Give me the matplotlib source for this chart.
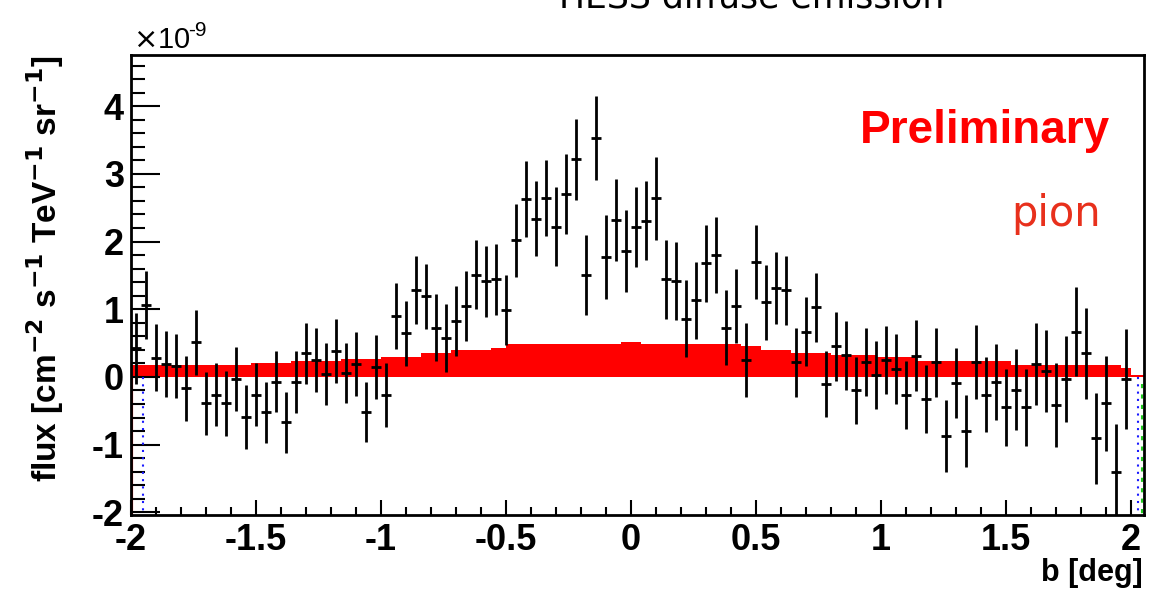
import matplotlib.pyplot as plt
import numpy as np

# measured flux points (units of 1e-9), bins of 0.04 deg
b_start = -1.98
b_step = 0.04
flux = [0.42, 1.06, 0.285, 0.19, 0.16, -0.17, 0.51, -0.39, -0.26, -0.39,
        -0.03, -0.59, -0.26, -0.52, -0.07, -0.67, -0.07, 0.35, 0.25, 0.04,
        0.38, 0.06, 0.19, -0.52, 0.15, -0.27, 0.90, 0.645, 1.285, 1.19,
        0.73, 0.57, 0.83, 1.05, 1.51, 1.41, 1.44, 0.99, 2.02, 2.63,
        2.34, 2.64, 2.22, 2.70, 3.215, 1.51, 3.535, 1.77, 2.32, 1.86,
        2.22, 2.31, 2.64, 1.44, 1.42, 0.86, 1.13, 1.68, 1.80, 0.73,
        1.05, 0.25, 1.70, 1.10, 1.31, 1.28, 0.22, 0.67, 1.03, -0.10,
        0.45, 0.32, -0.20, 0.22, 0.03, 0.25, 0.12, -0.27, 0.315, -0.33,
        0.22, -0.87, -0.09, -0.80, 0.22, -0.26, -0.07, -0.45, -0.19, -0.45,
        0.19, 0.09, -0.42, -0.03, 0.67, 0.35, -0.905, -0.39, -1.41, -0.03]
flux_err = [0.52, 0.50, 0.49, 0.49, 0.47, 0.48, 0.48, 0.47, 0.46, 0.48,
            0.47, 0.47, 0.47, 0.45, 0.45, 0.45, 0.46, 0.45, 0.47, 0.46,
            0.47, 0.44, 0.47, 0.44, 0.47, 0.47, 0.485, 0.48, 0.50, 0.48,
            0.49, 0.50, 0.52, 0.52, 0.51, 0.52, 0.52, 0.52, 0.54, 0.56,
            0.56, 0.56, 0.58, 0.59, 0.60, 0.59, 0.62, 0.62, 0.61, 0.61,
            0.59, 0.59, 0.61, 0.59, 0.58, 0.57, 0.57, 0.57, 0.56, 0.56,
            0.55, 0.55, 0.55, 0.55, 0.53, 0.51, 0.51, 0.51, 0.51, 0.49,
            0.51, 0.51, 0.50, 0.50, 0.50, 0.50, 0.52, 0.50, 0.52, 0.50,
            0.51, 0.53, 0.52, 0.53, 0.54, 0.55, 0.56, 0.57, 0.60, 0.57,
            0.61, 0.61, 0.62, 0.64, 0.66, 0.67, 0.67, 0.70, 0.71, 0.74]

# pion model histogram (step edges and heights)
pion_edges = [-2.0, -1.52, -1.36, -1.16, -1.0, -0.84, -0.72, -0.56, -0.50, -0.04,
              0.04, 0.44, 0.52, 0.64, 0.80, 0.98, 1.14, 1.52, 1.96, 2.0, 2.052]
pion_vals = [0.18, 0.20, 0.23, 0.26, 0.30, 0.35, 0.40, 0.42, 0.49, 0.52,
             0.49, 0.46, 0.40, 0.36, 0.33, 0.30, 0.24, 0.18, 0.13, 0.03]

b = b_start + b_step * np.arange(len(flux))

W, H = 1154, 593
fig = plt.figure(figsize=(W / 100, H / 100), dpi=100)
ax = fig.add_axes([131 / W, 1 - 515 / H, (1144 - 131) / W, (515 - 55) / H])

# red pion histogram
ax.stairs(pion_vals, pion_edges, baseline=0, fill=True, color='#ff0000', lw=0, zorder=1)
ax.plot([-2.0, -2.0], [0, -2.04], color='#ff0000', lw=3, zorder=1)

# dotted markers at the edges
ax.plot([-1.952, -1.952], [0, -2.04], color='#1a1aff', ls=(0, (1, 2.5)), lw=1.5, zorder=2)
ax.plot([2.028, 2.028], [0, -2.04], color='#1a1aff', ls=(0, (1, 2.5)), lw=1.5, zorder=2)
ax.plot([2.043, 2.043], [-0.1, -2.04], color='#22cc22', ls=(0, (2, 3)), lw=1.5, zorder=2)

ax.errorbar(b, flux, yerr=flux_err, xerr=0.019, fmt='none', ecolor='black',
            elinewidth=2.0, capsize=0, zorder=3)

ax.set_xlim(-2.0, 2.052)
ax.set_ylim(-2.04, 4.756)
ax.set_xticks([-2, -1.5, -1, -0.5, 0, 0.5, 1, 1.5, 2])
ax.set_xticklabels(['-2', '-1.5', '-1', '-0.5', '0', '0.5', '1', '1.5', '2'])
ax.set_xticks(np.arange(-2, 2.05, 0.1), minor=True)
ax.set_yticks([-2, -1, 0, 1, 2, 3, 4])
ax.set_yticklabels(['-2', '-1', '0', '1', '2', '3', '4'])
ax.set_yticks(np.arange(-2, 4.75, 0.2), minor=True)

ax.tick_params(axis='both', which='both', direction='in', top=False, right=False,
               width=1.5, labelsize=26)
ax.tick_params(axis='x', which='major', length=11, pad=6)
ax.tick_params(axis='x', which='minor', length=6)
ax.tick_params(axis='y', which='major', length=21, pad=5)
ax.tick_params(axis='y', which='minor', length=10)
for lab in ax.get_xticklabels() + ax.get_yticklabels():
    lab.set_fontfamily('Liberation Sans')
    lab.set_fontweight('bold')
for sp in ax.spines.values():
    sp.set_linewidth(2)

# axis titles, ROOT style
fig.text(1143 / W, 1 - 573 / H, 'b [deg]', ha='right', va='center',
         fontsize=22, fontweight='bold', family='Liberation Sans')
fig.text(45 / W, 1 - 55 / H, r'flux [cm$^{\mathbf{-2}}$ s$^{\mathbf{-1}}$ TeV$^{\mathbf{-1}}$ sr$^{\mathbf{-1}}$]',
         ha='center', va='top', rotation=90, fontsize=24, fontweight='bold',
         family='Liberation Sans')
fig.text(133 / W, 1 - 40 / H, r'$\times$10', ha='left', va='center',
         fontsize=21, family='Liberation Sans')
fig.text(188 / W, 1 - 30 / H, '-9', ha='left', va='center',
         fontsize=15, family='Liberation Sans')

fig.text(1110 / W, 1 - 131 / H, 'Preliminary', ha='right', va='center',
         fontsize=33, fontweight='bold', color='#ff0000', family='Liberation Sans')
fig.text(1101 / W, 1 - 214 / H, 'pion', ha='right', va='center',
         fontsize=30, color='#e8301c', family='DejaVu Sans')
fig.text(752 / W, 1 - 8 / H, 'HESS diffuse emission', ha='center', va='baseline',
         fontsize=25, color='black', family='DejaVu Sans')

fig.savefig('out.png', dpi=100)
